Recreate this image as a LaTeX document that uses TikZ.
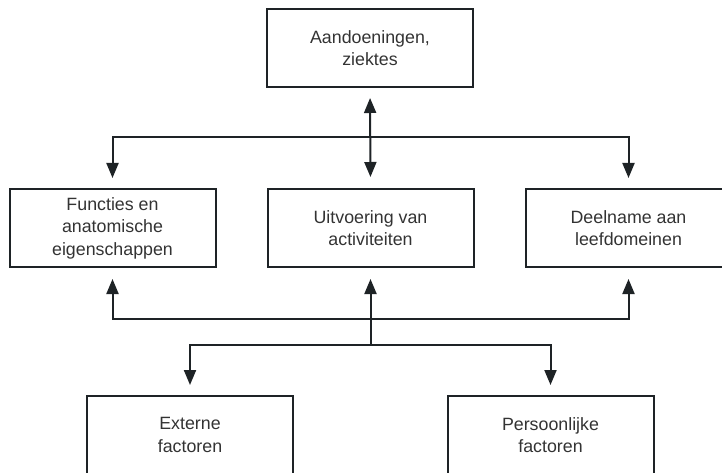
\documentclass[tikz,border=0pt]{standalone}
\usepackage{fontspec}
\setmainfont{Liberation Sans}
\usetikzlibrary{arrows.meta}
\definecolor{linec}{HTML}{1E2326}
\definecolor{textc}{HTML}{333333}
\tikzset{
  box/.style={draw=linec, line width=2pt, minimum width=206pt, minimum height=78pt,
    align=center, inner sep=0pt, text=textc,
    font=\fontsize{17.8pt}{22.5pt}\selectfont},
  conn/.style={draw=linec, line width=2pt},
  arr/.style={conn, -{Triangle[width=12pt,length=15pt]}},
  darr/.style={conn, {Triangle[width=12pt,length=15pt]}-{Triangle[width=12pt,length=15pt]}}
}
\begin{document}
\begin{tikzpicture}[x=1pt,y=-1pt]
\useasboundingbox (0,0) rectangle (722,473);
\clip (0,0) rectangle (722,473);
\node[box] (ziek) at (370,48) {Aandoeningen,\\ziektes};
\node[box] (func) at (112.5,228) {Functies en\\anatomische\\eigenschappen};
\node[box] (act) at (370.5,228) {Uitvoering van\\activiteiten};
\node[box] (deel) at (628.5,228) {Deelname aan\\leefdomeinen};
\node[box] (ext) at (190,435) {Externe\\factoren};
\node[box] (pers) at (550.5,435) {Persoonlijke\\factoren};
\coordinate (jt) at (370,137.5);
\coordinate (jb) at (370.5,319);
\coordinate (jc) at (370.5,345);
% top connections
\draw[darr, shorten <=10pt, shorten >=11pt] (ziek.south) -- (act.north);
\draw[arr, shorten >=10pt] (jt) -| (func.north);
\draw[arr, shorten >=10pt] (jt) -| (deel.north);
% bottom connections
\draw[arr, shorten >=11pt] (jb) -| (func.south);
\draw[arr, shorten >=11pt] (jb) -| (deel.south);
\draw[arr, shorten >=11pt] (jc) -- (act.south);
\draw[arr, shorten >=10pt] (jc) -| (ext.north);
\draw[arr, shorten >=10pt] (jc) -| (pers.north);
\end{tikzpicture}
\end{document}
